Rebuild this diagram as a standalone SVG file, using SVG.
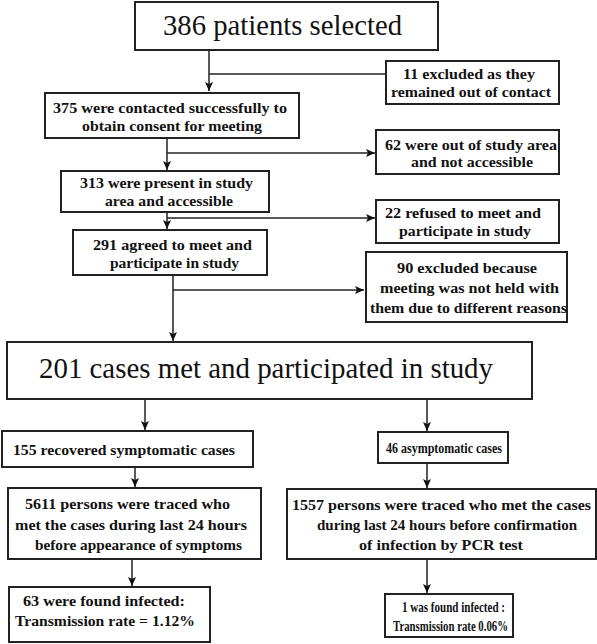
<svg xmlns="http://www.w3.org/2000/svg" width="597" height="644" viewBox="0 0 597 644">
<defs>
<marker id="ah" markerWidth="10" markerHeight="10" refX="9" refY="5" orient="auto" markerUnits="userSpaceOnUse">
<path d="M0,1 L9,5 L0,9 L2,5 Z" fill="#111"/>
</marker>
</defs>
<rect width="597" height="644" fill="#fff"/>
<g id="connectors" fill="none" stroke="#222" stroke-width="1.5">
<path d="M209,50 V91" marker-end="url(#ah)"/>
<path d="M209,74 H386"/>
<path d="M167,138 V170" marker-end="url(#ah)"/>
<path d="M167,153 H375" marker-end="url(#ah)"/>
<path d="M167,212 V229" marker-end="url(#ah)"/>
<path d="M167,218 H375" marker-end="url(#ah)"/>
<path d="M173,275 V341" marker-end="url(#ah)"/>
<path d="M173,290 H364" marker-end="url(#ah)"/>
<path d="M145,399 V430" marker-end="url(#ah)"/>
<path d="M427,399 V431" marker-end="url(#ah)"/>
<path d="M135,467 V487" marker-end="url(#ah)"/>
<path d="M427,463 V488" marker-end="url(#ah)"/>
<path d="M132,559 V586" marker-end="url(#ah)"/>
<path d="M427,559 V593" marker-end="url(#ah)"/>
</g>
<g id="n386">
<rect x="135" y="2" width="303" height="48" fill="#fff" stroke="#222" stroke-width="2"/>
<text x="282.5" y="35" font-family="Times New Roman, Liberation Serif, serif" font-size="29" text-anchor="middle" fill="#111" textLength="239" lengthAdjust="spacingAndGlyphs">386 patients selected</text>
</g>
<g id="n11">
<rect x="386" y="61" width="173" height="43" fill="#fff" stroke="#222" stroke-width="2"/>
<text x="469" y="79" font-family="Times New Roman, Liberation Serif, serif" font-size="15" font-weight="bold" text-anchor="middle" fill="#111" textLength="132" lengthAdjust="spacingAndGlyphs">11 excluded as they</text>
<text x="471" y="97" font-family="Times New Roman, Liberation Serif, serif" font-size="15" font-weight="bold" text-anchor="middle" fill="#111" textLength="160" lengthAdjust="spacingAndGlyphs">remained out of contact</text>
</g>
<g id="n375">
<rect x="45" y="93" width="254" height="45" fill="#fff" stroke="#222" stroke-width="2"/>
<text x="170" y="113" font-family="Times New Roman, Liberation Serif, serif" font-size="15" font-weight="bold" text-anchor="middle" fill="#111" textLength="234" lengthAdjust="spacingAndGlyphs">375 were contacted successfully to</text>
<text x="172" y="131" font-family="Times New Roman, Liberation Serif, serif" font-size="15" font-weight="bold" text-anchor="middle" fill="#111" textLength="180" lengthAdjust="spacingAndGlyphs">obtain consent for meeting</text>
</g>
<g id="n62">
<rect x="376" y="130" width="183" height="44" fill="#fff" stroke="#222" stroke-width="2"/>
<text x="471" y="150" font-family="Times New Roman, Liberation Serif, serif" font-size="15" font-weight="bold" text-anchor="middle" fill="#111" textLength="172" lengthAdjust="spacingAndGlyphs">62 were out of study area</text>
<text x="472" y="167" font-family="Times New Roman, Liberation Serif, serif" font-size="15" font-weight="bold" text-anchor="middle" fill="#111" textLength="122" lengthAdjust="spacingAndGlyphs">and not accessible</text>
</g>
<g id="n313">
<rect x="61" y="171" width="208" height="41" fill="#fff" stroke="#222" stroke-width="2"/>
<text x="166.5" y="188" font-family="Times New Roman, Liberation Serif, serif" font-size="15" font-weight="bold" text-anchor="middle" fill="#111" textLength="173" lengthAdjust="spacingAndGlyphs">313 were present in study</text>
<text x="169" y="206" font-family="Times New Roman, Liberation Serif, serif" font-size="15" font-weight="bold" text-anchor="middle" fill="#111" textLength="128" lengthAdjust="spacingAndGlyphs">area and accessible</text>
</g>
<g id="n22">
<rect x="376" y="200" width="183" height="43" fill="#fff" stroke="#222" stroke-width="2"/>
<text x="463" y="218" font-family="Times New Roman, Liberation Serif, serif" font-size="15" font-weight="bold" text-anchor="middle" fill="#111" textLength="156" lengthAdjust="spacingAndGlyphs">22 refused to meet and</text>
<text x="465" y="236" font-family="Times New Roman, Liberation Serif, serif" font-size="15" font-weight="bold" text-anchor="middle" fill="#111" textLength="132" lengthAdjust="spacingAndGlyphs">participate in study</text>
</g>
<g id="n291">
<rect x="73" y="230" width="194" height="45" fill="#fff" stroke="#222" stroke-width="2"/>
<text x="172.5" y="250" font-family="Times New Roman, Liberation Serif, serif" font-size="15" font-weight="bold" text-anchor="middle" fill="#111" textLength="159" lengthAdjust="spacingAndGlyphs">291 agreed to meet and</text>
<text x="174.5" y="268" font-family="Times New Roman, Liberation Serif, serif" font-size="15" font-weight="bold" text-anchor="middle" fill="#111" textLength="129" lengthAdjust="spacingAndGlyphs">participate in study</text>
</g>
<g id="n90">
<rect x="366" y="252" width="201" height="70" fill="#fff" stroke="#222" stroke-width="2"/>
<text x="467" y="273" font-family="Times New Roman, Liberation Serif, serif" font-size="15" font-weight="bold" text-anchor="middle" fill="#111" textLength="140" lengthAdjust="spacingAndGlyphs">90 excluded because</text>
<text x="469.5" y="293" font-family="Times New Roman, Liberation Serif, serif" font-size="15" font-weight="bold" text-anchor="middle" fill="#111" textLength="179" lengthAdjust="spacingAndGlyphs">meeting was not held with</text>
<text x="468.5" y="313" font-family="Times New Roman, Liberation Serif, serif" font-size="15" font-weight="bold" text-anchor="middle" fill="#111" textLength="197" lengthAdjust="spacingAndGlyphs">them due to different reasons</text>
</g>
<g id="n201">
<rect x="7" y="342" width="525" height="57" fill="#fff" stroke="#222" stroke-width="2"/>
<text x="266" y="378" font-family="Times New Roman, Liberation Serif, serif" font-size="29" text-anchor="middle" fill="#111" textLength="454" lengthAdjust="spacingAndGlyphs">201 cases met and participated in study</text>
</g>
<g id="n155">
<rect x="2" y="431" width="251" height="36" fill="#fff" stroke="#222" stroke-width="2"/>
<text x="124" y="455" font-family="Times New Roman, Liberation Serif, serif" font-size="15" font-weight="bold" text-anchor="middle" fill="#111" textLength="222" lengthAdjust="spacingAndGlyphs">155 recovered symptomatic cases</text>
</g>
<g id="n46">
<rect x="378" y="432" width="130" height="31" fill="#fff" stroke="#222" stroke-width="2"/>
<text x="444" y="453" font-family="Times New Roman, Liberation Serif, serif" font-size="14" font-weight="bold" text-anchor="middle" fill="#111" textLength="116" lengthAdjust="spacingAndGlyphs">46 asymptomatic cases</text>
</g>
<g id="n5611">
<rect x="8" y="488" width="253" height="71" fill="#fff" stroke="#222" stroke-width="2"/>
<text x="127.5" y="509" font-family="Times New Roman, Liberation Serif, serif" font-size="15" font-weight="bold" text-anchor="middle" fill="#111" textLength="205" lengthAdjust="spacingAndGlyphs">5611 persons were traced who</text>
<text x="131" y="530" font-family="Times New Roman, Liberation Serif, serif" font-size="15" font-weight="bold" text-anchor="middle" fill="#111" textLength="232" lengthAdjust="spacingAndGlyphs">met the cases during last 24 hours</text>
<text x="138.5" y="550" font-family="Times New Roman, Liberation Serif, serif" font-size="15" font-weight="bold" text-anchor="middle" fill="#111" textLength="207" lengthAdjust="spacingAndGlyphs">before appearance of symptoms</text>
</g>
<g id="n1557">
<rect x="287" y="489" width="309" height="70" fill="#fff" stroke="#222" stroke-width="2"/>
<text x="441.5" y="510" font-family="Times New Roman, Liberation Serif, serif" font-size="15" font-weight="bold" text-anchor="middle" fill="#111" textLength="299" lengthAdjust="spacingAndGlyphs">1557 persons were traced who met the cases</text>
<text x="447" y="530" font-family="Times New Roman, Liberation Serif, serif" font-size="15" font-weight="bold" text-anchor="middle" fill="#111" textLength="260" lengthAdjust="spacingAndGlyphs">during last 24 hours before confirmation</text>
<text x="441" y="550" font-family="Times New Roman, Liberation Serif, serif" font-size="15" font-weight="bold" text-anchor="middle" fill="#111" textLength="164" lengthAdjust="spacingAndGlyphs">of infection by PCR test</text>
</g>
<g id="n63">
<rect x="9" y="587" width="201" height="55" fill="#fff" stroke="#222" stroke-width="2"/>
<text x="104" y="606" font-family="Times New Roman, Liberation Serif, serif" font-size="15" font-weight="bold" text-anchor="middle" fill="#111" textLength="162" lengthAdjust="spacingAndGlyphs">63 were found infected:</text>
<text x="105" y="626" font-family="Times New Roman, Liberation Serif, serif" font-size="15" font-weight="bold" text-anchor="middle" fill="#111" textLength="180" lengthAdjust="spacingAndGlyphs">Transmission rate = 1.12%</text>
</g>
<g id="n1">
<rect x="385" y="594" width="128" height="43" fill="#fff" stroke="#222" stroke-width="2"/>
<text x="453.5" y="612" font-family="Times New Roman, Liberation Serif, serif" font-size="14" font-weight="bold" text-anchor="middle" fill="#111" textLength="103" lengthAdjust="spacingAndGlyphs">1 was found infected :</text>
<text x="450.5" y="631" font-family="Times New Roman, Liberation Serif, serif" font-size="14" font-weight="bold" text-anchor="middle" fill="#111" textLength="115" lengthAdjust="spacingAndGlyphs">Transmission rate 0.06%</text>
</g>
</svg>
